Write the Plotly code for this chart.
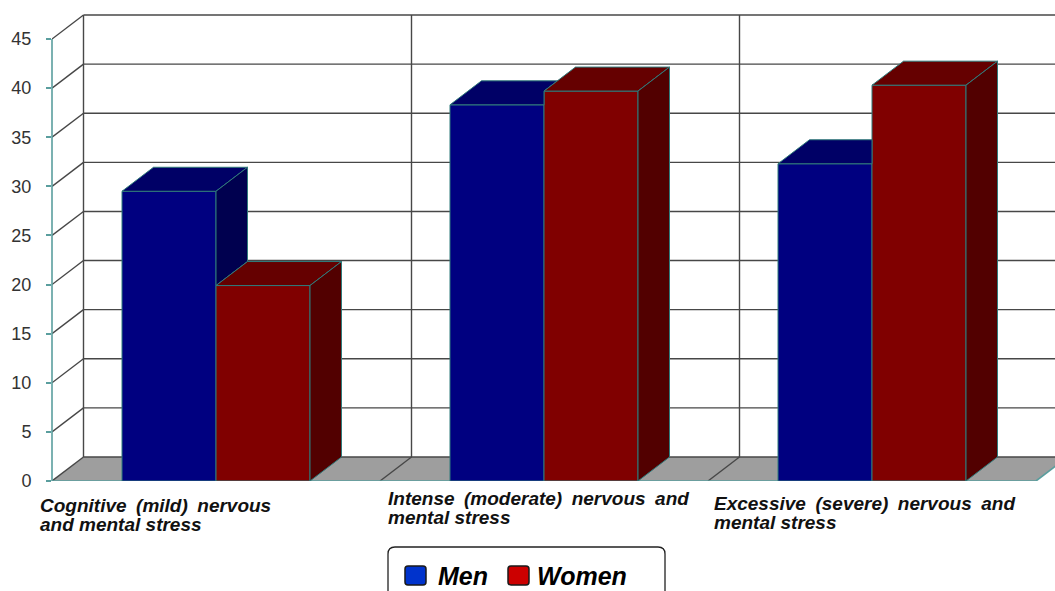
import plotly.graph_objects as go

# ---------------- data ----------------
CATEGORIES = [
    ["Cognitive (mild) nervous", "and mental stress"],
    ["Intense (moderate) nervous and", "mental stress"],
    ["Excessive (severe) nervous and", "mental stress"],
]
SERIES = ["Men", "Women"]
MEN = [29.5, 38.3, 32.3]
WOMEN = [19.9, 39.7, 40.3]
Y_TICKS = [0, 5, 10, 15, 20, 25, 30, 35, 40, 45]

# ---------------- styling / geometry (pixels) ----------------
FIG_W, FIG_H = 1055, 591
PLOT_L, PLOT_R, PLOT_T, PLOT_B = 52, 1055, 10, 481
CAT_PX = 328.0          # width of one category at the front plane
UNIT_PX = 9.822         # pixels per value unit on the front plane
DEPTH_X_PX, DEPTH_Y_PX = 31.5, 24.0
BAR_W_PX = 94.0
LABEL_SHIFT_PX = [-14, 6, 4]          # horizontal start of each category label
LABEL_LINE1_PX = [505, 498, 503]      # vertical centre of first label line
LABEL_LINE_GAP = 19.5

MEN_COLORS = dict(front="#000080", top="#000066", side="#00004f")
WOMEN_COLORS = dict(front="#800000", top="#650000", side="#520000")
LEGEND_COLORS = ["#0033cc", "#cc0000"]
EDGE = "#2f7a7a"
TEAL = "#5a9e9e"
GRID = "#474747"
FLOOR = "#9e9e9e"
FONT = "Liberation Sans, Arial, sans-serif"

n = len(CATEGORIES)
X_MIN = -0.5
X_MAX = X_MIN + (PLOT_R - PLOT_L) / CAT_PX
Y_MAX = (PLOT_B - PLOT_T) / UNIT_PX
DX = DEPTH_X_PX / CAT_PX
DY = DEPTH_Y_PX / UNIT_PX
BW = BAR_W_PX / CAT_PX
X_END = n - 0.5
TOP_TICK = Y_TICKS[-1]


def px2paper(px, py):
    return ((px - PLOT_L) / (PLOT_R - PLOT_L), (PLOT_B - py) / (PLOT_B - PLOT_T))


def poly_lists(polys):
    xs, ys = [], []
    for p in polys:
        for (a, b) in p + [p[0]]:
            xs.append(a)
            ys.append(b)
        xs.append(None)
        ys.append(None)
    return xs, ys


# visible faces (the right-hand bar occludes the left one)
men_top, men_side, wom_top, wom_side = [], [], [], []
for i, (m, w) in enumerate(zip(MEN, WOMEN)):
    x0, x1 = i - BW, i
    pts = [(x0, m), (x1, m)]
    if w <= m:
        pts.append((x1 + DX, m + DY))
        men_side.append([(x1, w), (x1, m), (x1 + DX, m + DY), (x1 + DX, w + DY)])
    elif w < m + DY:
        pts += [(x1, w), (x1 + (m + DY - w) * DX / DY, m + DY)]
    else:
        pts.append((x1, m + DY))
    pts.append((x0 + DX, m + DY))
    men_top.append(pts)
    a, b = i, i + BW
    wom_top.append([(a, w), (b, w), (b + DX, w + DY), (a + DX, w + DY)])
    wom_side.append([(b, 0), (b, w), (b + DX, w + DY), (b + DX, DY)])

fig = go.Figure()
xcat = list(range(n))
fig.add_trace(go.Bar(x=xcat, y=MEN, width=BW, offset=-BW, name=SERIES[0],
                     marker=dict(color=MEN_COLORS["front"], line=dict(color=EDGE, width=1)),
                     showlegend=False, hoverinfo="skip"))
fig.add_trace(go.Bar(x=xcat, y=WOMEN, width=BW, offset=0, name=SERIES[1],
                     marker=dict(color=WOMEN_COLORS["front"], line=dict(color=EDGE, width=1)),
                     showlegend=False, hoverinfo="skip"))

for polys, col in [(men_top, MEN_COLORS["top"]), (men_side, MEN_COLORS["side"]),
                   (wom_top, WOMEN_COLORS["top"]), (wom_side, WOMEN_COLORS["side"])]:
    if not polys:
        continue
    xs, ys = poly_lists(polys)
    fig.add_trace(go.Scatter(x=xs, y=ys, mode="lines", fill="toself", fillcolor=col,
                             line=dict(color=EDGE, width=1), showlegend=False,
                             hoverinfo="skip"))

shapes = []
# floor
shapes.append(dict(type="path", xref="x", yref="y", layer="below",
                   path=f"M {X_MIN},0 L {X_END},0 L {X_END + DX},{DY} L {X_MIN + DX},{DY} Z",
                   fillcolor=FLOOR, line=dict(width=0)))
# back wall grid lines + left wall diagonals
for v in Y_TICKS:
    shapes.append(dict(type="line", xref="x", yref="y", layer="below",
                       x0=X_MIN, y0=v, x1=X_MIN + DX, y1=v + DY,
                       line=dict(color=GRID, width=1.4)))
    shapes.append(dict(type="line", xref="x", yref="y", layer="below",
                       x0=X_MIN + DX, y0=v + DY, x1=X_MAX + 1, y1=v + DY,
                       line=dict(color=GRID, width=1.4)))
# left wall back edge and category dividers
for k in range(n):
    xb = X_MIN + k + DX
    shapes.append(dict(type="line", xref="x", yref="y", layer="below",
                       x0=xb, y0=DY, x1=xb, y1=TOP_TICK + DY,
                       line=dict(color=GRID, width=1.4)))
    if k > 0:
        shapes.append(dict(type="line", xref="x", yref="y", layer="below",
                           x0=X_MIN + k, y0=0, x1=xb, y1=DY,
                           line=dict(color=GRID, width=1.4)))
# teal floor edges
shapes.append(dict(type="line", xref="x", yref="y", layer="below",
                   x0=X_MIN, y0=0, x1=X_END, y1=0, line=dict(color=TEAL, width=1.6)))
shapes.append(dict(type="line", xref="x", yref="y", layer="below",
                   x0=X_END, y0=0, x1=X_END + DX, y1=DY, line=dict(color=TEAL, width=1.6)))
# front value axis line
shapes.append(dict(type="line", xref="paper", yref="paper", x0=0, x1=0,
                   y0=0, y1=TOP_TICK / Y_MAX, line=dict(color=TEAL, width=1.6)))


def rounded_rect(x0, y0, x1, y1, r):
    P = lambda a, b: "%.5f,%.5f" % px2paper(a, b)
    return (f"M {P(x0 + r, y0)} L {P(x1 - r, y0)} Q {P(x1, y0)} {P(x1, y0 + r)} "
            f"L {P(x1, y1 - r)} Q {P(x1, y1)} {P(x1 - r, y1)} "
            f"L {P(x0 + r, y1)} Q {P(x0, y1)} {P(x0, y1 - r)} "
            f"L {P(x0, y0 + r)} Q {P(x0, y0)} {P(x0 + r, y0)} Z")


# legend (custom, rounded box)
shapes.append(dict(type="path", xref="paper", yref="paper",
                   path=rounded_rect(388, 547, 665, 620, 7),
                   fillcolor="white", line=dict(color="#222222", width=1.3)))
legend_items = [(405, 436), (508, 535)]
annotations = []
for (sx, tx), name, col in zip(legend_items, SERIES, LEGEND_COLORS):
    shapes.append(dict(type="path", xref="paper", yref="paper",
                       path=rounded_rect(sx, 566, sx + 21, 585, 3),
                       fillcolor=col, line=dict(color="#1a1a1a", width=1.5)))
    px, py = px2paper(tx, 576)
    annotations.append(dict(xref="paper", yref="paper", x=px, y=py, xanchor="left",
                            yanchor="middle", showarrow=False, text=f"<b><i>{name}</i></b>",
                            font=dict(family=FONT, size=25, color="#000000")))

# category labels (first line justified with slightly wider spaces, as in the original)
for i, (lines, sh, y1) in enumerate(zip(CATEGORIES, LABEL_SHIFT_PX, LABEL_LINE1_PX)):
    for j, line in enumerate(lines):
        txt = line.replace(" ", "\u2002") if j < len(lines) - 1 else line
        annotations.append(dict(xref="x", yref="y", x=i - 0.5, y=0, xshift=sh,
                                yshift=-(y1 + j * LABEL_LINE_GAP - PLOT_B),
                                xanchor="left", yanchor="middle", align="left",
                                showarrow=False, text=f"<b><i>{txt}</i></b>",
                                font=dict(family=FONT, size=19, color="#111111")))

fig.update_layout(
    width=FIG_W, height=FIG_H,
    margin=dict(l=PLOT_L, r=FIG_W - PLOT_R, t=PLOT_T, b=FIG_H - PLOT_B, pad=0),
    paper_bgcolor="white", plot_bgcolor="white",
    barmode="overlay", showlegend=False,
    shapes=shapes, annotations=annotations,
    xaxis=dict(range=[X_MIN, X_MAX], showgrid=False, zeroline=False, showline=False,
               showticklabels=False, ticks="", fixedrange=True),
    yaxis=dict(range=[0, Y_MAX], tickvals=Y_TICKS, showgrid=False, zeroline=False,
               showline=False, ticks="outside", ticklen=5, tickcolor=TEAL, tickwidth=1.5,
               ticklabelstandoff=11, automargin=False,
               tickfont=dict(family=FONT, size=18, color="#333333"), fixedrange=True),
    font=dict(family=FONT),
)

fig.write_html("out.html")
